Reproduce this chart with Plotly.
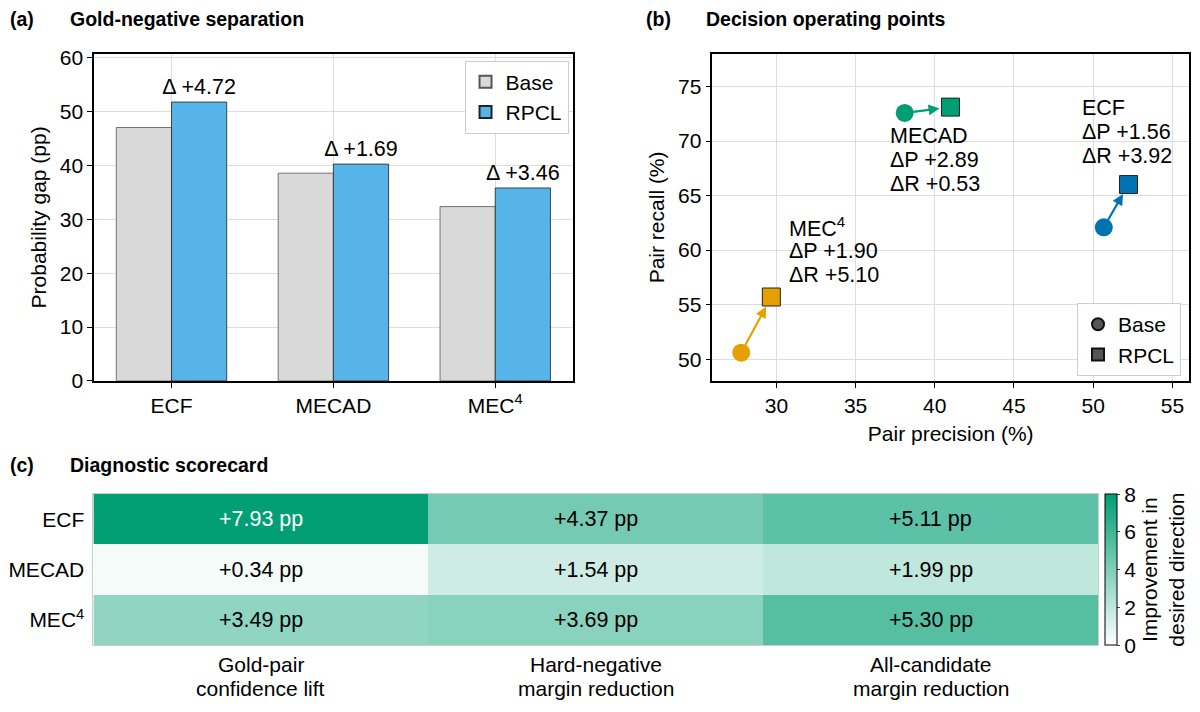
import plotly.graph_objects as go

# ---------------- data ----------------
methods = ["ECF", "MECAD", "MEC<sup>4</sup>"]
method_colors = ["#0072B2", "#009E73", "#E69F00"]

gap_base = [47.05, 38.57, 32.37]
gap_rpcl = [51.77, 40.26, 35.83]

prec_base = [50.67, 38.10, 27.78]
prec_rpcl = [52.23, 40.99, 29.68]
rec_base = [62.09, 72.58, 50.60]
rec_rpcl = [66.01, 73.11, 55.70]

score_cols = ["Gold-pair<br>confidence lift",
              "Hard-negative<br>margin reduction",
              "All-candidate<br>margin reduction"]
score_vals = [[7.93, 4.37, 5.11],
              [0.34, 1.54, 1.99],
              [3.49, 3.69, 5.30]]

FONT = "Liberation Sans, Arial, sans-serif"
FS = 21
FA = 21.5
# the page body keeps an 8 px margin, so the figure is 16 px smaller than the window
PAD = 8
W, H = 1200 - 2 * PAD, 712 - 2 * PAD


def px_x(p):
    return (p - PAD) / W


def px_y(p):
    # slight vertical stretch so the layout spans the window like the reference
    q = p * 1.0102 - 3.67
    return 1 - (q - PAD) / H


fig = go.Figure()

# ---------------- (a) bars ----------------
fig.add_trace(go.Bar(x=methods, y=gap_base, name="Base",
                     marker=dict(color="#d9d9d9", line=dict(color="#555555", width=0.8)),
                     xaxis="x", yaxis="y", legend="legend"))
fig.add_trace(go.Bar(x=methods, y=gap_rpcl, name="RPCL",
                     marker=dict(color="#56B4E9", line=dict(color="#222222", width=0.8)),
                     text=[f"Δ +{r - b:.2f}" for b, r in zip(gap_base, gap_rpcl)],
                     textposition="outside", constraintext="none", cliponaxis=False,
                     textfont=dict(size=FA, color="black", family=FONT),
                     xaxis="x", yaxis="y", legend="legend"))

# ---------------- (b) scatter ----------------
fig.add_trace(go.Scatter(x=prec_base, y=rec_base, mode="markers",
                         marker=dict(symbol="circle", size=18, color=method_colors),
                         showlegend=False, xaxis="x2", yaxis="y2"))
fig.add_trace(go.Scatter(x=prec_rpcl, y=rec_rpcl, mode="markers",
                         marker=dict(symbol="square", size=18, color=method_colors,
                                     line=dict(color="#222222", width=1)),
                         showlegend=False, xaxis="x2", yaxis="y2"))
fig.add_trace(go.Scatter(x=[None], y=[None], mode="markers", name="Base",
                         marker=dict(symbol="circle", size=14, color="#555555", line=dict(color="#111111", width=1)),
                         xaxis="x2", yaxis="y2", legend="legend2"))
fig.add_trace(go.Scatter(x=[None], y=[None], mode="markers", name="RPCL",
                         marker=dict(symbol="square", size=14, color="#555555", line=dict(color="#111111", width=1)),
                         xaxis="x2", yaxis="y2", legend="legend2"))

annotations = []
for i in range(len(methods)):
    annotations.append(dict(x=prec_rpcl[i], y=rec_rpcl[i], ax=prec_base[i], ay=rec_base[i],
                            xref="x2", yref="y2", axref="x2", ayref="y2", text="",
                            showarrow=True, arrowhead=2, arrowsize=1, arrowwidth=2.2,
                            arrowcolor=method_colors[i], standoff=11, startstandoff=7))

# label placement relative to the base point, in pixels: (xshift, yshift of first line)
label_shift = [(-24, 119), (-17, -23), (46, 126)]
LINE = 24
for i in range(len(methods)):
    dx, dy = label_shift[i]
    dp = prec_rpcl[i] - prec_base[i]
    dr = rec_rpcl[i] - rec_base[i]
    for k, line in enumerate([methods[i], f"ΔP +{dp:.2f}", f"ΔR +{dr:.2f}"]):
        annotations.append(dict(x=prec_base[i], y=rec_base[i], xref="x2", yref="y2",
                                xshift=dx, yshift=dy - k * LINE,
                                text=line, showarrow=False, xanchor="left", yanchor="middle", align="left",
                                font=dict(size=FA, color="black", family=FONT)))

# ---------------- (c) heatmap ----------------
fig.add_trace(go.Heatmap(z=score_vals, x=score_cols, y=methods,
                         colorscale=[[0, "#ffffff"], [1, "#009E73"]], zmin=0, zmax=8,
                         xaxis="x3", yaxis="y3", hoverongaps=False,
                         colorbar=dict(x=px_x(1105), xanchor="left", xpad=0,
                                       y=(px_y(652) + px_y(498)) / 2, yanchor="middle", ypad=0,
                                       len=px_y(498) - px_y(652), lenmode="fraction",
                                       thickness=12, outlinewidth=1, outlinecolor="black",
                                       tickvals=[0, 2, 4, 6, 8], ticks="outside", ticklen=3,
                                       tickfont=dict(size=FS, family=FONT, color="black"),
                                       title=dict(text="Improvement in<br>desired direction", side="right",
                                                  font=dict(size=FS, family=FONT, color="black")))))

for r, row in enumerate(score_vals):
    for c, v in enumerate(row):
        annotations.append(dict(x=score_cols[c], y=methods[r], xref="x3", yref="y3",
                                text=f"+{v:.2f} pp", showarrow=False,
                                font=dict(size=FA, family=FONT, color="white" if v > 6 else "black")))

# column labels of the scorecard (two lines each)
for c, col in enumerate(score_cols):
    for k, part in enumerate(col.split("<br>")):
        annotations.append(dict(x=col, y=px_y(672 + 24 * k), xref="x3", yref="paper",
                                text=part, showarrow=False, xanchor="center", yanchor="middle",
                                font=dict(size=FS, family=FONT, color="black")))

# ---------------- panel titles ----------------
for lab, title, lx, tx, ty in [("(a)", "Gold-negative separation", 8, 68, 15),
                               ("(b)", "Decision operating points", 645, 705, 15),
                               ("(c)", "Diagnostic scorecard", 8, 68, 469)]:
    annotations.append(dict(x=px_x(lx), y=px_y(ty), xref="paper", yref="paper", text=f"<b>{lab}</b>",
                            showarrow=False, xanchor="left", yanchor="middle", borderpad=0,
                            font=dict(size=19.5, family=FONT, color="black")))
    annotations.append(dict(x=px_x(tx), y=px_y(ty), xref="paper", yref="paper", text=f"<b>{title}</b>",
                            showarrow=False, xanchor="left", yanchor="middle", borderpad=0,
                            font=dict(size=19.5, family=FONT, color="black")))

axis_common = dict(showline=True, linecolor="black", linewidth=1.6, mirror=True,
                   ticks="outside", ticklen=5, tickwidth=1.2, tickcolor="black",
                   gridcolor="#dddddd", gridwidth=1, zeroline=False,
                   tickfont=dict(size=FS, family=FONT, color="black"))

fig.update_layout(
    width=W, height=H, margin=dict(l=0, r=0, t=0, b=0),
    paper_bgcolor="white", plot_bgcolor="white",
    font=dict(family=FONT, size=FS, color="black"),
    barmode="group", bargap=0.318, bargroupgap=0,
    xaxis=dict(domain=[px_x(93.3), px_x(572)], range=[-0.4775, 2.4775], anchor="y",
               showgrid=True, **axis_common),
    yaxis=dict(domain=[px_y(383), px_y(50)], range=[0, 60.73], anchor="x",
               tickvals=[0, 10, 20, 30, 40, 50, 60], showgrid=True,
               title=dict(text="Probability gap (pp)", standoff=8, font=dict(size=FS, family=FONT)),
               **axis_common),
    xaxis2=dict(domain=[px_x(712), px_x(1189)], range=[25.96, 56.05], anchor="y2",
                tickvals=[30, 35, 40, 45, 50, 55], showgrid=True,
                title=dict(text="Pair precision (%)", standoff=10, font=dict(size=FS, family=FONT)),
                **axis_common),
    yaxis2=dict(domain=[px_y(383), px_y(50)], range=[48.0, 78.0], anchor="x2",
                tickvals=[50, 55, 60, 65, 70, 75], showgrid=True,
                title=dict(text="Pair recall (%)", standoff=8, font=dict(size=FS, family=FONT)),
                **axis_common),
    xaxis3=dict(domain=[px_x(92.5), px_x(1098)], anchor="y3", showline=True, linecolor="#cccccc",
                linewidth=1, mirror=True, ticks="", showgrid=False, zeroline=False,
                showticklabels=False),
    yaxis3=dict(domain=[px_y(652), px_y(498)], anchor="x3", autorange="reversed", showline=True,
                linecolor="#cccccc", linewidth=1, mirror=True, ticks="", showgrid=False, zeroline=False,
                ticklabelstandoff=4, tickfont=dict(size=FS, family=FONT, color="black")),
    legend=dict(x=px_x(568), y=px_y(57), xanchor="right", yanchor="top", xref="paper", yref="paper",
                bgcolor="rgba(255,255,255,0.9)", bordercolor="#cccccc", borderwidth=1,
                font=dict(size=FS, family=FONT), itemsizing="constant", tracegroupgap=2),
    legend2=dict(x=px_x(1181), y=px_y(378), xanchor="right", yanchor="bottom", xref="paper", yref="paper",
                 bgcolor="rgba(255,255,255,0.9)", bordercolor="#cccccc", borderwidth=1,
                 font=dict(size=FS, family=FONT), itemsizing="constant"),
    annotations=annotations,
)

fig.write_html("out.html")
